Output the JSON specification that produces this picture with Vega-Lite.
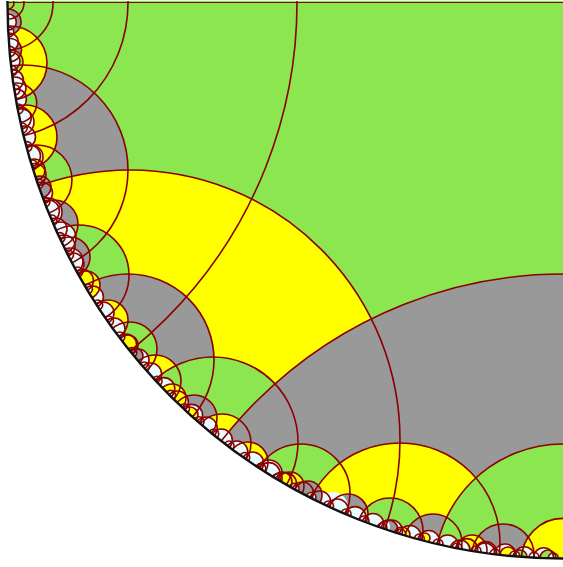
{"$schema":"https://vega.github.io/schema/vega-lite/v6.json","width":563,"height":567,"padding":0,"autosize":{"type":"fit","contains":"padding"},"background":"white","config":{"view":{"stroke":null}},
"datasets":{"cells":[
{"x":563,"y":3,"r":555,"c":"green"},
{"x":23,"y":170,"r":105,"c":"gray"},
{"x":37,"y":180,"r":35,"c":"green"},
{"x":16.7,"y":103,"r":20,"c":"green"},
{"x":25,"y":137,"r":32,"c":"yellow"},
{"x":10,"y":63,"r":37,"c":"yellow"},
{"x":8,"y":22,"r":13,"c":"gray"},
{"x":-149,"y":3,"r":446,"c":"none"},
{"x":-8.6,"y":3,"r":136.6,"c":"none"},
{"x":6,"y":3,"r":47,"c":"none"},
{"x":8,"y":3,"r":16,"c":"none"},
{"x":8,"y":3,"r":6,"c":"none"},
{"x":10,"y":50,"r":11.5,"c":"gray"},
{"x":11,"y":62,"r":12,"c":"green"},
{"x":130,"y":440,"r":270,"c":"yellow"},
{"x":54,"y":224,"r":24,"c":"gray"},
{"x":79,"y":275,"r":50,"c":"green"},
{"x":70,"y":257,"r":20,"c":"gray"},
{"x":128,"y":360,"r":86,"c":"gray"},
{"x":108,"y":320,"r":20,"c":"yellow"},
{"x":130,"y":349,"r":27,"c":"green"},
{"x":155,"y":381,"r":26,"c":"yellow"},
{"x":213,"y":442,"r":85,"c":"green"},
{"x":194,"y":418,"r":23,"c":"gray"},
{"x":222,"y":443,"r":29,"c":"yellow"},
{"x":563,"y":706.8,"r":432.8,"c":"gray"},
{"x":248,"y":462,"r":20,"c":"yellow"},
{"x":238,"y":456,"r":12,"c":"white","lens":1},
{"x":301,"y":493,"r":49,"c":"green"},
{"x":400,"y":543,"r":100,"c":"yellow"},
{"x":348,"y":514,"r":20,"c":"gray"},
{"x":333,"y":507,"r":15,"c":"white","lens":1},
{"x":390,"y":531,"r":33,"c":"green"},
{"x":433,"y":543,"r":29,"c":"gray"},
{"x":563,"y":573,"r":129,"c":"green"},
{"x":503,"y":555,"r":31,"c":"gray"},
{"x":563,"y":560,"r":41.6,"c":"yellow"},
{"x":48,"y":212,"r":14,"c":"white"},
{"x":60,"y":238,"r":16,"c":"white"},
{"x":70,"y":261,"r":13,"c":"white"},
{"x":15,"y":88,"r":11,"c":"white"},
{"x":21,"y":122,"r":13,"c":"white"},
{"x":31,"y":157,"r":12,"c":"white"},
{"x":269,"y":473,"r":13,"c":"white"},
{"x":282,"y":482,"r":10,"c":"white"},
{"x":8.3,"y":22,"r":8,"c":"white"},{"x":9.3,"y":42,"r":9,"c":"white"},{"x":11,"y":61,"r":9,"c":"white"},{"x":13.4,"y":80,"r":10,"c":"white"},{"x":16.4,"y":99,"r":10,"c":"white"},{"x":20.2,"y":118,"r":11,"c":"white"},{"x":24.5,"y":137,"r":11,"c":"white"},{"x":29.5,"y":156,"r":11,"c":"white"},{"x":35,"y":174.5,"r":11,"c":"white"},{"x":41.5,"y":193,"r":11,"c":"white"},{"x":48.4,"y":211,"r":11,"c":"white"},{"x":56,"y":229,"r":11,"c":"white"},{"x":64,"y":246,"r":11,"c":"white"},{"x":73,"y":264,"r":11,"c":"white"},{"x":82.4,"y":280.5,"r":11,"c":"white"},{"x":92.4,"y":297,"r":11,"c":"white"},{"x":103,"y":313,"r":11,"c":"white"},{"x":114,"y":329,"r":11,"c":"white"},{"x":125.7,"y":345,"r":11,"c":"white"},{"x":138,"y":360,"r":11,"c":"white"},{"x":150.6,"y":374,"r":11,"c":"white"},{"x":163.8,"y":388.6,"r":11,"c":"white"},{"x":177.4,"y":402,"r":11,"c":"white"},{"x":191.6,"y":415.4,"r":11,"c":"white"},{"x":206.2,"y":428,"r":11,"c":"white"},{"x":221.3,"y":440,"r":11,"c":"white"},{"x":236.8,"y":452,"r":11,"c":"white"},{"x":252.6,"y":463,"r":11,"c":"white"},{"x":269,"y":473.6,"r":11,"c":"white"},{"x":285.5,"y":483.6,"r":11,"c":"white"},{"x":302.4,"y":493,"r":11,"c":"white"},{"x":319.7,"y":502,"r":11,"c":"white"},{"x":337.3,"y":510,"r":11,"c":"white"},{"x":355,"y":517.6,"r":11,"c":"white"},{"x":373,"y":524.5,"r":11,"c":"white"},{"x":391.5,"y":531,"r":11,"c":"white"},{"x":410,"y":536.5,"r":11,"c":"white"},{"x":428.7,"y":541.5,"r":11,"c":"white"},{"x":447.6,"y":546,"r":11,"c":"white"},{"x":466.7,"y":549.6,"r":11,"c":"white"},{"x":485.7,"y":552.6,"r":11,"c":"white"},{"x":505,"y":555,"r":11,"c":"white"},{"x":524.3,"y":556.7,"r":10,"c":"white"},{"x":543.6,"y":557.7,"r":10,"c":"white"},
{"x":34,"y":170,"r":11,"c":"yellow"},
{"x":40,"y":187,"r":11,"c":"gray"},
{"x":86,"y":285,"r":14,"c":"yellow"},
{"x":128,"y":345,"r":10,"c":"yellow"},
{"x":135,"y":356,"r":8,"c":"gray"},
{"x":172,"y":398,"r":14,"c":"yellow"},
{"x":190,"y":415,"r":8,"c":"yellow"},
{"x":290,"y":486,"r":14,"c":"yellow"},
{"x":308,"y":495,"r":14,"c":"gray"},
{"x":388,"y":530,"r":10,"c":"gray"},
{"x":382,"y":527,"r":8,"c":"white","lens":1},
{"x":402,"y":535,"r":8,"c":"yellow"},
{"x":425,"y":538,"r":5,"c":"yellow"},
{"x":472,"y":550,"r":15,"c":"yellow"},
{"x":508,"y":555,"r":8,"c":"yellow"},
{"x":520,"y":557,"r":7,"c":"green"},
{"x":548,"y":558,"r":8,"c":"green"},
{"x":460,"y":550,"r":10,"c":"white"},
{"x":485,"y":553,"r":10,"c":"white"},
{"x":8.8,"y":32,"r":5,"c":"white"},{"x":10.1,"y":51.4,"r":5,"c":"white"},{"x":12.1,"y":70.6,"r":5,"c":"white"},{"x":14.9,"y":89.8,"r":5,"c":"white"},{"x":18.2,"y":109,"r":5,"c":"white"},{"x":22.2,"y":128,"r":5,"c":"white"},{"x":27,"y":146.6,"r":5,"c":"white"},{"x":32.3,"y":165,"r":5,"c":"white"},{"x":38.2,"y":183.7,"r":5,"c":"white"},{"x":44.9,"y":202,"r":5,"c":"white"},{"x":52,"y":220,"r":5,"c":"white"},{"x":60,"y":237.6,"r":5,"c":"white"},{"x":68.5,"y":255,"r":5,"c":"white"},{"x":77.7,"y":272,"r":5,"c":"white"},{"x":87.4,"y":289,"r":5,"c":"white"},{"x":97.7,"y":305,"r":5,"c":"white"},{"x":108.5,"y":321,"r":5,"c":"white"},{"x":119.8,"y":337,"r":5,"c":"white"},{"x":131.8,"y":352.5,"r":5,"c":"white"},{"x":144.3,"y":367,"r":5,"c":"white"},{"x":157,"y":381.3,"r":5,"c":"white"},{"x":170.6,"y":395.4,"r":5,"c":"white"},{"x":184.5,"y":408.7,"r":5,"c":"white"},{"x":199,"y":421.7,"r":5,"c":"white"},{"x":213.7,"y":434,"r":5,"c":"white"},{"x":229,"y":446,"r":5,"c":"white"},{"x":244.7,"y":457.5,"r":5,"c":"white"},{"x":260.8,"y":468.4,"r":5,"c":"white"},{"x":277.2,"y":478.7,"r":5,"c":"white"},{"x":294,"y":488.4,"r":5,"c":"white"},{"x":311,"y":497.5,"r":5,"c":"white"},{"x":328.5,"y":506,"r":5,"c":"white"},{"x":346,"y":514,"r":5,"c":"white"},{"x":364,"y":521,"r":5,"c":"white"},{"x":382,"y":528,"r":5,"c":"white"},{"x":400.7,"y":534,"r":5,"c":"white"},{"x":419.3,"y":539,"r":5,"c":"white"},{"x":438,"y":544,"r":5,"c":"white"},{"x":457,"y":548,"r":5,"c":"white"},{"x":476,"y":551,"r":5,"c":"white"},{"x":495,"y":554,"r":5,"c":"white"},{"x":514.7,"y":556,"r":5,"c":"white"},{"x":534,"y":557.3,"r":5,"c":"white"},{"x":553.3,"y":558,"r":5,"c":"white"}
],"rim":[{"x":563,"y":3,"r":1555.5}],"edge":[{"x":563,"y":3,"r":555.5}],"top":[{"x":8,"x2":563,"y":2.5}],"cap":[{"x":0,"x2":563,"y":0,"y2":1}]},
"encoding":{"x":{"field":"x","type":"quantitative","axis":null,"scale":{"domain":[0,563],"nice":false,"zero":false}},"y":{"field":"y","type":"quantitative","axis":null,"scale":{"domain":[567,0],"nice":false,"zero":false}},"size":{"field":"r","type":"quantitative","legend":null,"scale":{"type":"pow","exponent":2,"domain":[0,2000],"range":[0,16000000]}}},
"layer":[
{"data":{"name":"cells"},"transform":[{"filter":"datum.c!='none'"}],"mark":{"type":"point","shape":"circle","filled":true,"opacity":1,"strokeWidth":0,"clip":true},"encoding":{"fill":{"field":"c","type":"nominal","legend":null,"scale":{"domain":["green","yellow","gray","white"],"range":["#8ce650","#ffff00","#999999","#e8fcff"]}}}},
{"data":{"name":"cells"},"transform":[{"filter":"!datum.lens && datum.r<555"}],"mark":{"type":"point","shape":"circle","filled":false,"opacity":1,"stroke":"#8b0000","strokeWidth":1.6,"clip":true}},
{"data":{"name":"rim"},"mark":{"type":"point","shape":"circle","filled":false,"opacity":1,"stroke":"white","strokeWidth":2000,"clip":true}},
{"data":{"name":"edge"},"mark":{"type":"point","shape":"circle","filled":false,"opacity":1,"stroke":"#111111","strokeWidth":2.4,"clip":true}},
{"data":{"name":"cap"},"mark":{"type":"rect","color":"white","clip":true},"encoding":{"x2":{"field":"x2"},"y2":{"field":"y2"},"size":{"value":null}}},
{"data":{"name":"top"},"mark":{"type":"rule","stroke":"#7a0a0a","strokeWidth":2.5,"clip":true},"encoding":{"x2":{"field":"x2"},"size":{"value":null}}}
]}
